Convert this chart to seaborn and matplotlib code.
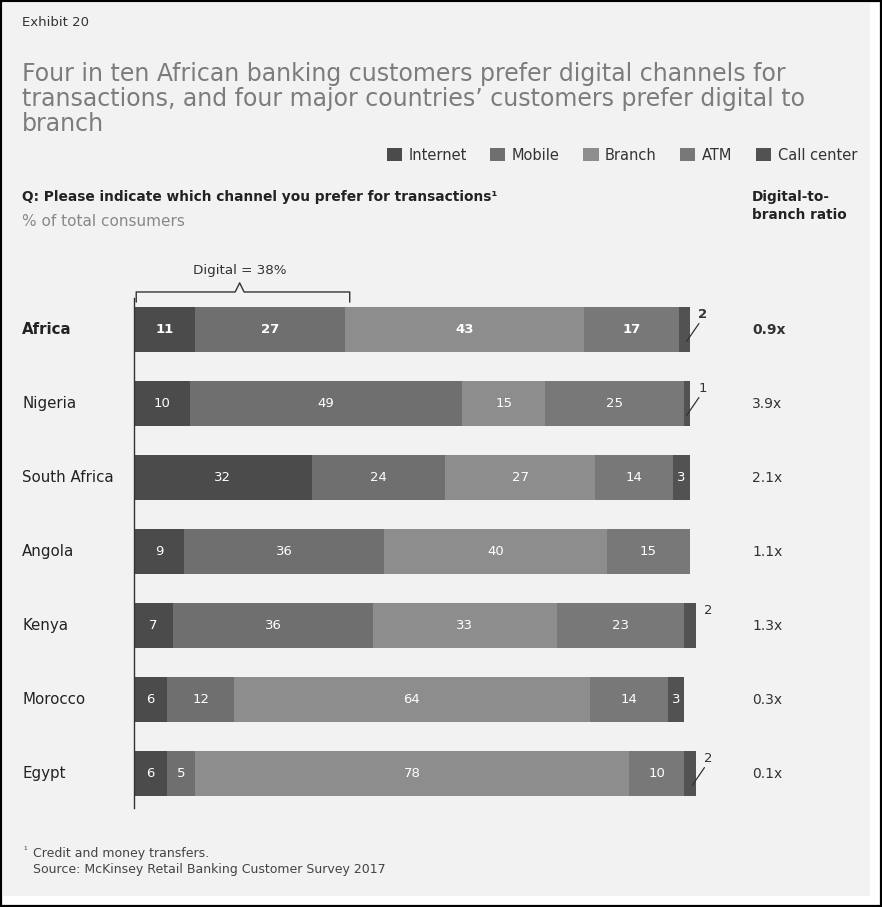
import numpy as np
import pandas as pd
import matplotlib
matplotlib.use("Agg")
import matplotlib.pyplot as plt
import matplotlib.transforms as mtransforms
from matplotlib.patches import Rectangle, Patch
from matplotlib.lines import Line2D
import seaborn as sns

# ---- data -----------------------------------------------------------------
countries = ["Africa", "Nigeria", "South Africa", "Angola", "Kenya", "Morocco", "Egypt"]
internet = [11, 10, 32, 9, 7, 6, 6]
mobile = [27, 49, 24, 36, 36, 12, 5]
branch = [43, 15, 27, 40, 33, 64, 78]
atm = [17, 25, 14, 15, 23, 14, 10]
call_center = [2, 1, 3, 0, 2, 3, 2]
digital_to_branch = [0.9, 3.9, 2.1, 1.1, 1.3, 0.3, 0.1]
channels = ["Internet", "Mobile", "Branch", "ATM", "Call center"]

# ---- style ----------------------------------------------------------------
colors = ["#4b4b4b", "#6f6f6f", "#8d8d8d", "#787878", "#525252"]
sns.set_style("white")
plt.rcParams["font.family"] = ["DejaVu Sans"]

W, H = 882, 907
fig = plt.figure(figsize=(W / 100, H / 100), dpi=100, facecolor="white")


def fx(px):
    return px / W


def fy(py):
    return 1 - py / H


# panel background and frame
fig.add_artist(Rectangle((fx(3), fy(896)), fx(870) - fx(3), fy(3) - fy(896),
                         transform=fig.transFigure, facecolor="#f2f2f2",
                         edgecolor="none", zorder=-5))
fig.add_artist(Rectangle((fx(1), fy(906)), fx(881) - fx(1), fy(1) - fy(906),
                         transform=fig.transFigure, fill=False,
                         edgecolor="black", linewidth=1.6, zorder=10))

# ---- bars -----------------------------------------------------------------
unit = 5.56          # pixels per percentage point
x0_px, top_px, bot_px = 134, 292.5, 810.5
xmax = 110
ax = fig.add_axes([fx(x0_px), fy(bot_px), (xmax * unit) / W, (bot_px - top_px) / H])
ax.patch.set_alpha(0)

values = np.array([internet, mobile, branch, atm, call_center])
cum = np.cumsum(values, axis=0)
df = pd.DataFrame({"country": countries})
for k in reversed(range(len(channels))):
    df["cum"] = cum[k]
    sns.barplot(data=df, x="cum", y="country", orient="h", color=colors[k],
                width=0.61, saturation=1, linewidth=0, ax=ax, zorder=2)

ax.set_xlim(0, xmax)
ax.set_ylim(len(countries) - 0.5, -0.5)
ax.set_xlabel("")
ax.set_ylabel("")
ax.set_xticks([])
ax.set_yticks([])
for s in ["top", "right", "bottom"]:
    ax.spines[s].set_visible(False)
ax.spines["left"].set_color("#333333")
ax.spines["left"].set_linewidth(1.0)
ax.spines["left"].set_bounds(-0.43, 6.47)

# segment labels
for i, name in enumerate(countries):
    weight = "bold" if i == 0 else "normal"
    total = cum[-1][i]
    for k in range(len(channels)):
        v = values[k][i]
        if v <= 0:
            continue
        left = cum[k][i] - v
        if v >= 3:
            ax.text(left + v / 2, i, str(v), ha="center", va="center",
                    color="white", fontsize=9.5, fontweight=weight, zorder=5)
        else:
            ax.text(total + 2.3, i - 0.2, str(v), ha="center", va="center",
                    color="#333333", fontsize=9.5, fontweight=weight,
                    clip_on=False, zorder=5)
            if name != "Kenya":
                ax.add_line(Line2D([total - 0.6, total + 1.6], [i + 0.16, i - 0.08],
                                   color="#333333", lw=0.9, clip_on=False, zorder=6))

# row labels and ratio column
trans = mtransforms.blended_transform_factory(fig.transFigure, ax.transData)
for i, name in enumerate(countries):
    weight = "bold" if i == 0 else "normal"
    ax.text(fx(22), i, name, transform=trans, ha="left", va="center",
            fontsize=10.8, fontweight=weight, color="#222222")
    ax.text(fx(752), i, f"{digital_to_branch[i]:.1f}x", transform=trans,
            ha="left", va="center", fontsize=10, fontweight=weight, color="#333333")

# digital bracket over the first row
digital = internet[0] + mobile[0]
yb, yt = -0.507, -0.37
mid = digital / 2
ax.add_line(Line2D([0.4, 0.4, mid - 0.8, mid, mid + 0.8, digital + 0.8, digital + 0.8],
                   [yt, yb, yb, -0.63, yb, yb, yt],
                   color="#333333", lw=1.0, clip_on=False))
ax.text(mid, -0.80, f"Digital = {digital}%", ha="center", va="center",
        fontsize=9.7, color="#333333", clip_on=False)

# ---- header, legend, footnotes ---------------------------------------------
fig.text(fx(22), fy(22), "Exhibit 20", ha="left", va="center",
         fontsize=9.5, color="#333333")
title_lines = ["Four in ten African banking customers prefer digital channels for",
               "transactions, and four major countries\u2019 customers prefer digital to",
               "branch"]
for j, line in enumerate(title_lines):
    fig.text(fx(22), fy(74 + 25 * j), line, ha="left", va="center",
             fontsize=17, color="#7c7c7c")

handles = [Patch(facecolor=c, edgecolor="none", label=l) for c, l in zip(colors, channels)]
fig.legend(handles=handles, loc="center right", bbox_to_anchor=(fx(857), fy(155)),
           ncol=5, frameon=False, fontsize=10.5, handlelength=1.05, handleheight=1.05,
           handletextpad=0.45, columnspacing=1.6, borderaxespad=0, borderpad=0,
           labelcolor="#333333")

fig.text(fx(22), fy(197), "Q: Please indicate which channel you prefer for transactions\u00b9",
         ha="left", va="center", fontsize=9.9, fontweight="bold", color="#222222")
fig.text(fx(22), fy(222), "% of total consumers", ha="left", va="center",
         fontsize=11, color="#888888")
fig.text(fx(752), fy(197), "Digital-to-", ha="left", va="center",
         fontsize=9.8, fontweight="bold", color="#222222")
fig.text(fx(752), fy(215), "branch ratio", ha="left", va="center",
         fontsize=9.8, fontweight="bold", color="#222222")

fig.text(fx(23), fy(851), "\u00b9", ha="left", va="center", fontsize=6.5, color="#444444")
fig.text(fx(33), fy(853), "Credit and money transfers.", ha="left", va="center",
         fontsize=9, color="#444444")
fig.text(fx(33), fy(870), "Source: McKinsey Retail Banking Customer Survey 2017",
         ha="left", va="center", fontsize=9, color="#444444")

fig.savefig("out.png", dpi=100, facecolor="white")
